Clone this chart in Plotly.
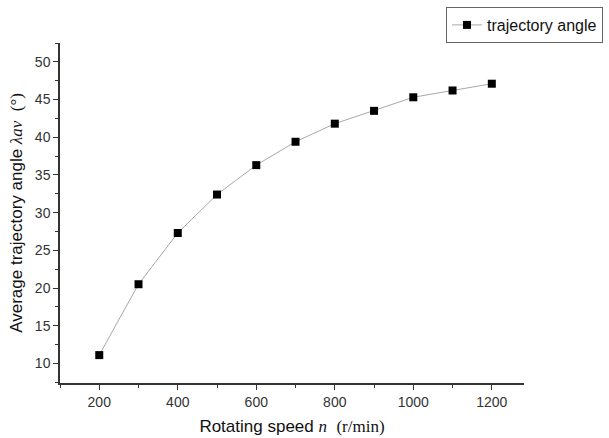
import plotly.graph_objects as go

speed = [200, 300, 400, 500, 600, 700, 800, 900, 1000, 1100, 1200]
angle = [11.1, 20.5, 27.3, 32.4, 36.3, 39.4, 41.8, 43.5, 45.3, 46.2, 47.1]
series_name = "trajectory angle"

fig = go.Figure()
fig.add_trace(go.Scatter(
    x=speed, y=angle, mode="lines+markers", name=series_name,
    line=dict(color="#a8a8a8", width=1),
    marker=dict(symbol="square", size=8, color="black"),
))

serif = "font-family:'Liberation Serif','DejaVu Serif',serif"
fig.update_layout(
    width=609, height=438,
    margin=dict(l=60, r=85, t=43, b=55, autoexpand=False),
    paper_bgcolor="white", plot_bgcolor="white",
    font=dict(family="Liberation Sans, Arial, sans-serif", color="#222"),
    showlegend=True,
    legend=dict(x=446/609, y=1 - 7/438, xref="container", yref="container", xanchor="left", yanchor="top",
                bordercolor="#666", borderwidth=1, bgcolor="white",
                font=dict(size=16, color="#111"), itemwidth=30),
    xaxis=dict(
        range=[100, 1282], tickmode="array", tickvals=[200, 400, 600, 800, 1000, 1200],
        ticks="outside", ticklen=5, tickwidth=1, tickcolor="#333",
        minor=dict(tickvals=[100, 300, 500, 700, 900, 1100], ticks="outside", ticklen=3, tickcolor="#333"),
        showline=True, linecolor="#333", linewidth=1.5, showgrid=False, zeroline=False,
        automargin=False,
        tickfont=dict(size=14, color="#333"),
        title=dict(text=f"Rotating speed <i><span style=\"{serif}\">n</span></i>  <span style=\"{serif}\">(r/min)</span>",
                   font=dict(size=17, color="#111"), standoff=12),
    ),
    yaxis=dict(
        range=[7.4, 52.5], tickmode="array", tickvals=[10, 15, 20, 25, 30, 35, 40, 45, 50],
        ticks="outside", ticklen=5, tickwidth=1, tickcolor="#333",
        minor=dict(tickvals=[7.5, 12.5, 17.5, 22.5, 27.5, 32.5, 37.5, 42.5, 47.5, 52.5], ticks="outside", ticklen=3, tickcolor="#333"),
        showline=True, linecolor="#333", linewidth=1.5, showgrid=False, zeroline=False,
        automargin=False,
        tickfont=dict(size=14, color="#333"),
        title=dict(text=f"Average trajectory angle <i><span style=\"{serif}\">λav</span></i>  <span style=\"{serif}\">(°)</span>",
                   font=dict(size=17, color="#111"), standoff=8),
    ),
)

fig.write_html("out.html", config={"displayModeBar": False},
               post_script="document.body.style.margin='0';")
